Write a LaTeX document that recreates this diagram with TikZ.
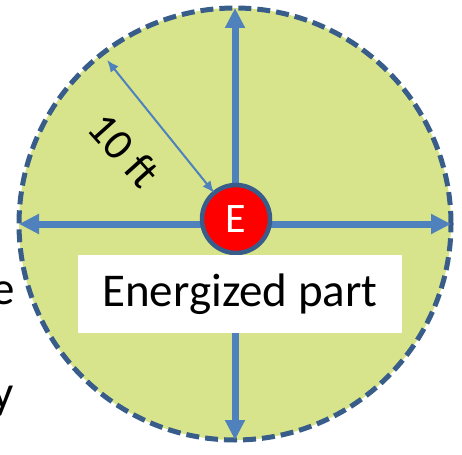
\documentclass[tikz,border=0pt]{standalone}
\usepackage{fontspec}
\setmainfont{Carlito}
\usetikzlibrary{positioning,arrows.meta}
\definecolor{zonegreen}{RGB}{215,228,139}
\definecolor{arrowblue}{RGB}{79,129,189}
\definecolor{rimblue}{RGB}{56,93,138}

\begin{document}
\begin{tikzpicture}[
    x=1pt, y=-1pt,
    zone/.style={circle, fill=zonegreen, draw=rimblue, line width=5pt, dash pattern=on 13pt off 6pt, minimum size=432pt, inner sep=0pt, outer sep=0pt},
    epart/.style={circle, fill=red, draw=rimblue, line width=4.5pt, minimum size=68pt, inner sep=0pt, outer sep=0pt, text=white, font=\fontsize{42}{50}\selectfont},
    reach/.style={-{Triangle[length=20pt, width=19pt]}, line width=7pt, draw=arrowblue},
    dist/.style={{Latex[length=12pt, width=10pt]}-{Latex[length=12pt, width=10pt]}, line width=2pt, draw=arrowblue},
    tag/.style={fill=white, minimum width=324pt, minimum height=78pt, inner sep=0pt, font=\fontsize{47}{56}\selectfont},
    edge/.style={inner sep=0pt, font=\fontsize{47}{56}\selectfont},
    ]
    \useasboundingbox (0,0) rectangle (462,454);

    % approach zone
    \node[zone] (zone) at (235,224) {};

    % reach arrows
    \draw[reach] (zone.center) to (zone.north);
    \draw[reach] (zone.center) to (zone.south);
    \draw[reach] (zone.center) to (zone.west);
    \draw[reach] (zone.center) to (zone.east);

    % energized part
    \node[epart] (E) at (236,219) {E};
    \node[tag] (tag) at (240,294) {Energized part};

    % distance
    \draw[dist, shorten <=8pt] (zone.128) to (E.130);
    \node[inner sep=0pt, rotate=-48, font=\fontsize{44}{52}\selectfont] (dim) at (124,150) {10 ft};

    % cut off slide text
    \node[edge, anchor=base east] (e1) at (15,304) {e};
    \node[edge, anchor=base east] (y1) at (14,408) {y};
\end{tikzpicture}
\end{document}
